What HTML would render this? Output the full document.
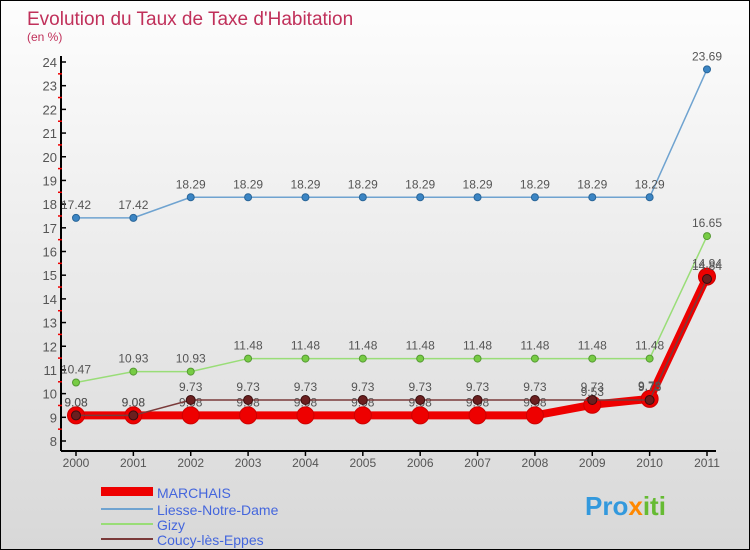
<!DOCTYPE html>
<html><head><meta charset="utf-8"><style>
body{margin:0;}
#wrap{width:750px;height:550px;position:relative;overflow:hidden;background:linear-gradient(#fdfdfd,#d8d8d8);border:1px solid #000;box-sizing:border-box;font-family:"Liberation Sans",sans-serif;}
</style></head><body>
<div id="wrap">
<svg id="svg" width="750" height="550">
<text x="26" y="24" font-size="19" fill="#c0305a">Evolution du Taux de Taxe d'Habitation</text>
<text x="26" y="40" font-size="12" fill="#c0305a">(en %)</text>
<g id="axes"></g><g id="series"></g>
<g>
<rect x="100" y="486" width="52" height="9" fill="#ee0000"/>
<text x="156" y="497" font-size="14" fill="#4466dd">MARCHAIS</text>
<line x1="100" y1="508" x2="152" y2="508" stroke="#6fa3d0" stroke-width="2"/>
<text x="156" y="514" font-size="14" fill="#4466dd">Liesse-Notre-Dame</text>
<line x1="100" y1="523" x2="152" y2="523" stroke="#99dd77" stroke-width="2"/>
<text x="156" y="529" font-size="14" fill="#4466dd">Gizy</text>
<line x1="100" y1="538" x2="152" y2="538" stroke="#7a3a3a" stroke-width="2"/>
<text x="156" y="544" font-size="14" fill="#4466dd">Coucy-lès-Eppes</text>
</g>
<text x="584" y="514" font-size="26" font-weight="bold" fill="#3399dd">Pro<tspan fill="#ff8800">x</tspan><tspan fill="#66bb33">iti</tspan></text>
</svg>
</div>
<script>
const years=["2000","2001","2002","2003","2004","2005","2006","2007","2008","2009","2010","2011"];
const yTicks=[8,9,10,11,12,13,14,15,16,17,18,19,20,21,22,23,24];
const marchais=[9.08,9.08,9.08,9.08,9.08,9.08,9.08,9.08,9.08,9.53,9.78,14.94];
const liesse=[17.42,17.42,18.29,18.29,18.29,18.29,18.29,18.29,18.29,18.29,18.29,23.69];
const gizy=[10.47,10.93,10.93,11.48,11.48,11.48,11.48,11.48,11.48,11.48,11.48,16.65];
const coucy=[9.08,9.08,9.73,9.73,9.73,9.73,9.73,9.73,9.73,9.73,9.73,14.84];
const NS="http://www.w3.org/2000/svg";
const X=i=>75+i*(706-75)/11;
const Y=v=>440-(v-8)*(440-61)/16;
function mk(t,a,p){const e=document.createElementNS(NS,t);for(const k in a)e.setAttribute(k,a[k]);p.appendChild(e);return e;}
const ax=document.getElementById('axes');
const yl=mk('line',{x1:60,y1:55,x2:60,y2:450,stroke:'#000','stroke-width':2},ax);


const xl=mk('line',{x1:60,y1:450,x2:715,y2:450,stroke:'#000','stroke-width':2},ax);


yTicks.forEach(v=>{
 mk('line',{x1:60,y1:Y(v),x2:65,y2:Y(v),stroke:'#000','stroke-width':1.5},ax);
 if(v<24)mk('line',{x1:57,y1:Y(v+0.5),x2:61,y2:Y(v+0.5),stroke:'#e00','stroke-width':1.5},ax);
 const t=mk('text',{x:56,y:Y(v)+5,'font-size':13,fill:'#555','text-anchor':'end'},ax);t.textContent=v;
 
 
});
years.forEach((y,i)=>{
 mk('line',{x1:X(i),y1:450,x2:X(i),y2:455,stroke:'#000','stroke-width':1.5},ax);
 const t=mk('text',{x:X(i),y:466,'font-size':12,fill:'#555','text-anchor':'middle'},ax);t.textContent=y;
 
 
});
const sg=document.getElementById('series');
function series(data,name,color,w,r,dot,stroke){
 const g=mk('g',{},sg);
 
 
 mk('polyline',{points:data.map((v,i)=>X(i)+','+Y(v)).join(' '),fill:'none',stroke:color,'stroke-width':w,'stroke-linejoin':'round'},g);
 data.forEach((v,i)=>{
  const c=mk('circle',{cx:X(i),cy:Y(v),r:r,fill:dot,stroke:stroke,'stroke-width':1},g);
  
  
  const t=mk('text',{x:X(i),y:Y(v)-9,'font-size':12,fill:'#555','text-anchor':'middle'},g);t.textContent=v;
  
  
 });
}
series(liesse,'liesse','#6fa3d0',1.5,3.5,'#3b85c4','#2a6699');
series(gizy,'gizy','#99dd77',1.5,3.5,'#77cc44','#559933');
series(marchais,'marchais','#ee0000',8,8.5,'#ee0000','#cc0000');
series(coucy,'coucy','#7a3a3a',1.5,4.5,'#6b1f1f','#3a0d0d');
</script>
</body></html>
